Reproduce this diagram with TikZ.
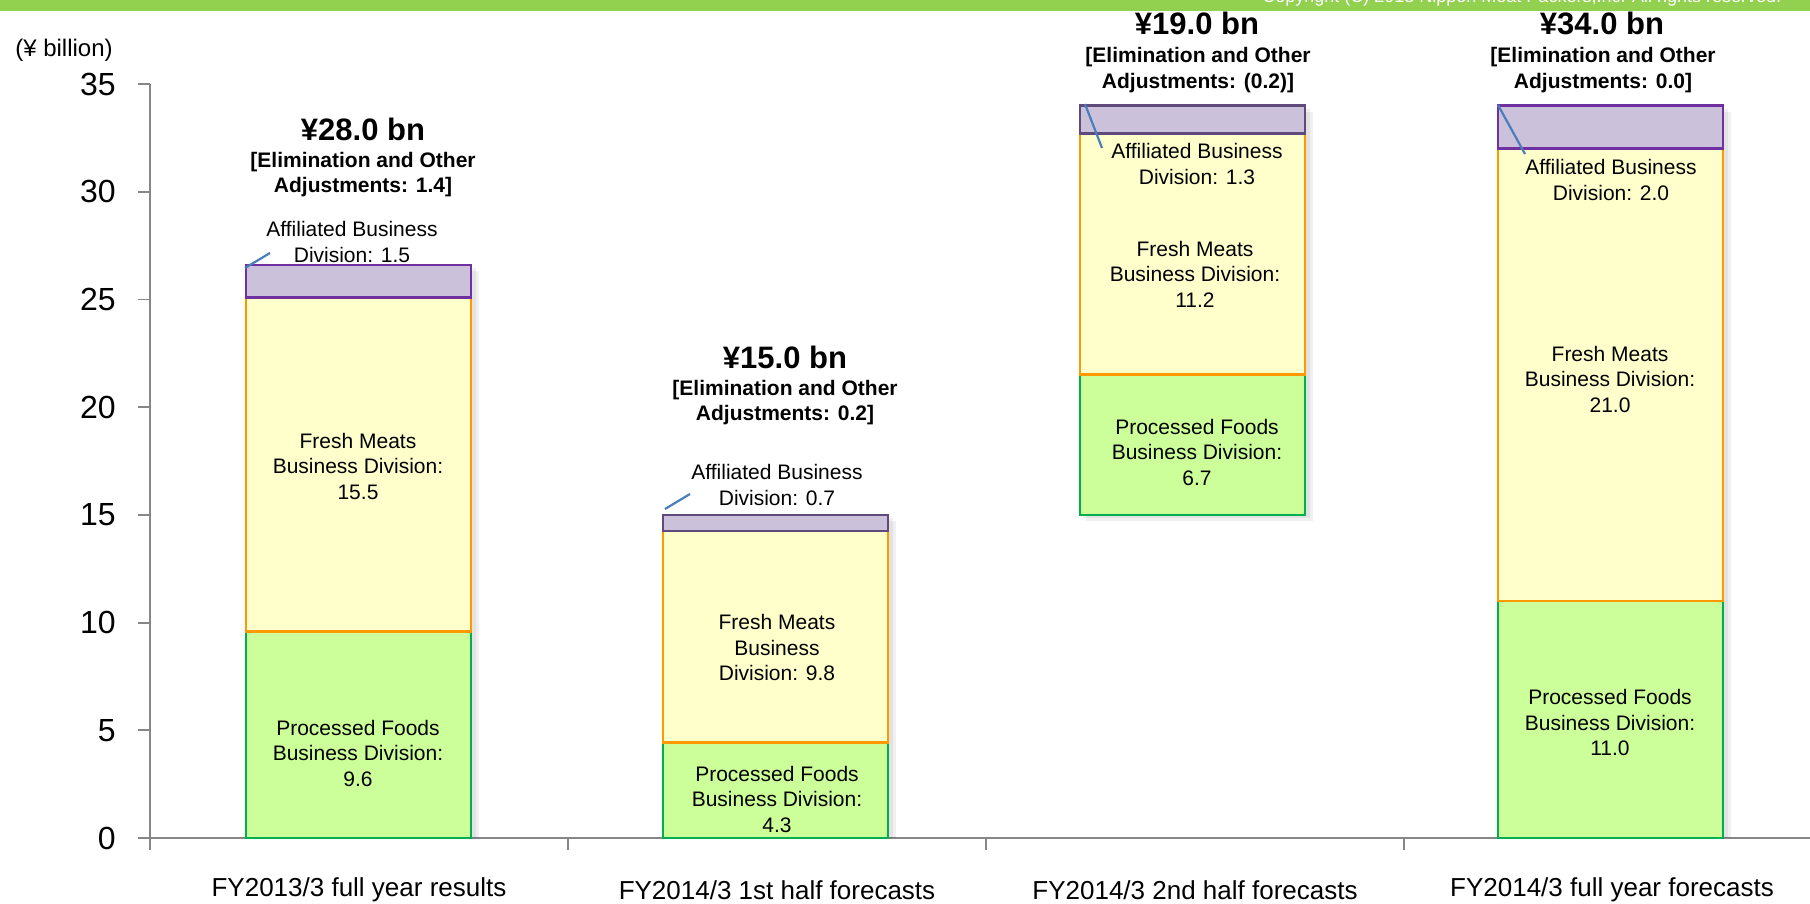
\documentclass[tikz,border=0pt]{standalone}
\usepackage{fontspec}
\setmainfont{Liberation Sans}
\usepackage{xcolor}
\definecolor{topgreen}{HTML}{92D050}
\definecolor{pfFill}{HTML}{CCFF99}
\definecolor{pfLine}{HTML}{00B050}
\definecolor{fmFill}{HTML}{FFFFCC}
\definecolor{fmLine}{HTML}{FF9900}
\definecolor{abFill}{HTML}{CCC1DA}
\definecolor{abLine}{HTML}{7030A0}
\definecolor{abDark}{HTML}{604A7B}
\definecolor{leadblue}{HTML}{4A7EBB}
\definecolor{axisgray}{HTML}{868686}
\tikzset{
  seg/.style={line width=1.4pt},
  axisline/.style={draw=axisgray,line width=0.9pt},
  leader/.style={draw=leadblue,line width=1.1pt},
  divlabel/.style={font=\fontsize{10.5}{12.75}\selectfont,align=center,inner sep=0pt},
  adjlabel/.style={font=\bfseries\fontsize{10.5}{12.75}\selectfont,align=center,inner sep=0pt},
  totlabel/.style={font=\bfseries\fontsize{15.5}{18}\selectfont,inner sep=0pt},
  ticklabel/.style={font=\fontsize{16}{19}\selectfont,anchor=east,inner sep=0pt},
  catlabel/.style={font=\fontsize{13}{15}\selectfont,inner sep=0pt},
}

\begin{document}
\begin{tikzpicture}[x=0.5pt,y=-0.5pt]
\useasboundingbox (0,0) rectangle (1810,904);
\fill[topgreen] (0,0) rectangle (1810,11);
\node[font=\fontsize{9}{11}\selectfont,text=white,anchor=base west,inner sep=0pt] (copy) at (1262,3) {Copyright (C) 2013 Nippon Meat Packers,Inc. All rights reserved.};

\node[font=\fontsize{12}{14}\selectfont,inner sep=0pt] (unit) at (64,50) {(¥ billion)};
\draw[axisline] (150,84.1) -- (150,838) -- (1810,838);
\foreach \v in {0,5,...,35}{
  \draw[axisline] (138,{838-21.54*\v}) -- (150,{838-21.54*\v});
  \node[ticklabel] (tick\v) at (116,{838-21.54*\v}) {\v};
}
\foreach \i in {0,...,3}
  \draw[axisline] ({150+418*\i},838) -- ({150+418*\i},850);

\begin{scope}[shift={(0,838)},yscale=-21.54]
\foreach \xl/\a/\b/\c/\d/\ab in {246/0/9.6/25.1/26.6/abLine,663/0/4.45/14.25/15/abDark,1080/15/21.5/32.7/34/abDark,1498/0/11/32/34/abLine}{
  \fill[black,opacity=0.06] ({\xl+3},{max(\a-0.15,0)}) rectangle ({\xl+230},{\d-0.15});
  \fill[black,opacity=0.06] ({\xl+6},{max(\a-0.3,0)}) rectangle ({\xl+233},{\d-0.3});
  \draw[seg,draw=pfLine,fill=pfFill] (\xl,\a) rectangle ({\xl+225},\b);
  \draw[seg,draw=fmLine,fill=fmFill] (\xl,\b) rectangle ({\xl+225},\c);
  \draw[seg,draw=\ab,fill=abFill] (\xl,\c) rectangle ({\xl+225},\d);
}
\end{scope}

% FY2013/3 full year results
\node[totlabel] (tot1) at (363,129) {¥28.0 bn};
\node[adjlabel] (adj1) at (363,174.5) {[Elimination and Other\\Adjustments: 1.4]};
\node[divlabel] (ab1) at (352,242) {Affiliated Business\\Division: 1.5};
\node[divlabel] (fm1) at (358,466) {Fresh Meats\\Business Division:\\15.5};
\node[divlabel] (pf1) at (358,753) {Processed Foods\\Business Division:\\9.6};
\coordinate (lead1a) at (245,268);
\coordinate (lead1b) at (270,253);
\draw[leader] (lead1a) -- (lead1b);

% FY2014/3 1st half
\node[totlabel] (tot2) at (785,357) {¥15.0 bn};
\node[adjlabel] (adj2) at (785,402.5) {[Elimination and Other\\Adjustments: 0.2]};
\node[divlabel] (ab2) at (777,485) {Affiliated Business\\Division: 0.7};
\node[divlabel] (fm2) at (777,647.5) {Fresh Meats\\Business\\Division: 9.8};
\node[divlabel] (pf2) at (777,799) {Processed Foods\\Business Division:\\4.3};
\coordinate (lead2a) at (665,509);
\coordinate (lead2b) at (690,494);
\draw[leader] (lead2a) -- (lead2b);

% FY2014/3 2nd half
\node[totlabel] (tot3) at (1197,23) {¥19.0 bn};
\node[adjlabel] (adj3) at (1198,70) {[Elimination and Other\\Adjustments: (0.2)]};
\node[divlabel] (ab3) at (1197,164) {Affiliated Business\\Division: 1.3};
\node[divlabel] (fm3) at (1195,274) {Fresh Meats\\Business Division:\\11.2};
\node[divlabel] (pf3) at (1197,452) {Processed Foods\\Business Division:\\6.7};
\coordinate (lead3a) at (1085,104);
\coordinate (lead3b) at (1102,148);
\draw[leader] (lead3a) -- (lead3b);

% FY2014/3 full year
\node[totlabel] (tot4) at (1602,23) {¥34.0 bn};
\node[adjlabel] (adj4) at (1603,70) {[Elimination and Other\\Adjustments: 0.0]};
\node[divlabel] (ab4) at (1611,180) {Affiliated Business\\Division: 2.0};
\node[divlabel] (fm4) at (1610,379) {Fresh Meats\\Business Division:\\21.0};
\node[divlabel] (pf4) at (1610,722.5) {Processed Foods\\Business Division:\\11.0};
\coordinate (lead4a) at (1498,105);
\coordinate (lead4b) at (1525,154);
\draw[leader] (lead4a) -- (lead4b);

\node[catlabel] (cat1) at (359,890) {FY2013/3 full year results};
\node[catlabel] (cat2) at (777,890) {FY2014/3 1st half forecasts};
\node[catlabel] (cat3) at (1195,890) {FY2014/3 2nd half forecasts};
\node[catlabel] (cat4) at (1612,890) {FY2014/3 full year forecasts};
\end{tikzpicture}
\end{document}
